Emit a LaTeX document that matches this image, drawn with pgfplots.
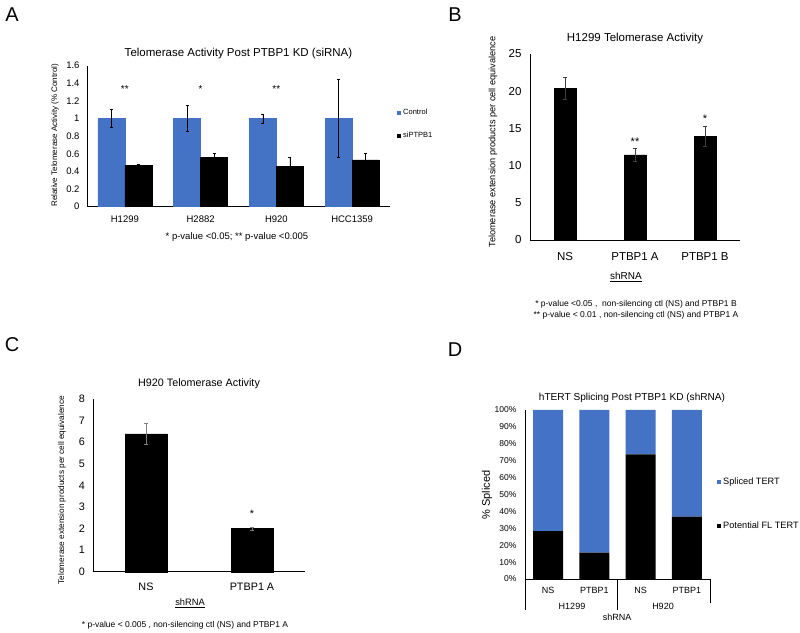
\documentclass[border=0pt]{standalone}
\usepackage{pgfplots}
\pgfplotsset{compat=1.18}
\usepackage{fontspec}
\setmainfont{Liberation Sans}
\definecolor{xblue}{HTML}{4472C4}
\newcommand{\fs}[1]{\fontsize{#1}{#1}\selectfont}
\pgfplotsset{
 excel/.style={
  scale only axis,
  axis x line*=bottom, axis y line*=left,
  axis line style={line width=0.8pt,-},
  major tick length=0pt,
  /pgf/number format/assume math mode=true,
  ymin=0,
  clip=false,
 },
 eb/.style={error bars/.cd, y dir=both, y explicit,
  error bar style={line width=0.6pt,#1},
  error mark options={rotate=90,mark size=1.6pt,line width=0.6pt,#1}},
}
\begin{document}
\begin{tikzpicture}[x=1pt,y=1pt]
\useasboundingbox (0,0) rectangle (800,632);
% ---------- A ----------
\begin{axis}[excel, at={(87pt,425.3pt)}, anchor=south west, width=303pt, height=141pt,
 ymax=1.6, xmin=-0.5, xmax=3.5, xtick={0,1,2,3},
 xticklabels={H1299,H2882,H920,HCC1359},
 ytick={0,0.2,0.4,0.6,0.8,1,1.2,1.4,1.6},
 ybar=0pt, bar width=27pt,
 ticklabel style={font=\fs{9.5}},
 xticklabel style={yshift=-5.4pt}, yticklabel style={xshift=-4pt},
 title={Telomerase Activity Post PTBP1 KD (siRNA)},
 title style={font=\fs{11.5}, at={(0.5,1)}, anchor=center, yshift=5.7pt},
 ylabel={Relative Telomerase Activity (\% Control)},
 ylabel style={font=\fs{8}, at={(axis description cs:-0.1056,0.507)}, anchor=center},
 legend image code/.code={\path[#1,draw=none] (0pt,-2pt) rectangle (4pt,2pt);},
 legend style={at={(axis description cs:1.023,0.707)}, anchor=north west, draw=none, fill=none, inner sep=0pt, font=\fs{7.5}, row sep=12pt},
 legend cell align=left,
]
\addplot[fill=xblue, draw=xblue, eb=black] coordinates {(0,1)+-(0,0.1) (1,1)+-(0,0.15) (2,1)+-(0,0.05) (3,1)+-(0,0.44)};
\addplot[fill=black, draw=black, eb=black] coordinates {(0,0.47)+-(0,0.01) (1,0.56)+-(0,0.05) (2,0.46)+-(0,0.1) (3,0.53)+-(0,0.08)};
\legend{Control,siPTPB1}
\node[font=\fs{10}] at (axis cs:0,1.33) {**};
\node[font=\fs{10}] at (axis cs:1,1.33) {*};
\node[font=\fs{10}] at (axis cs:2,1.33) {**};
\end{axis}
% ---------- B ----------
\begin{axis}[excel, at={(530pt,392pt)}, anchor=south west, width=210pt, height=186pt,
 ymax=25, ytick={0,5,10,15,20,25}, xmin=-0.5, xmax=2.5, xtick={0,1,2},
 xticklabels={NS,PTBP1 A,PTBP1 B},
 ybar, bar width=22pt,
 ticklabel style={font=\fs{11.5}},
 xticklabel style={yshift=-9pt}, yticklabel style={xshift=-5pt},
 title={H1299 Telomerase Activity},
 title style={font=\fs{11.5}, at={(0.5,1)}, anchor=center, yshift=9pt},
 ylabel={Telomerase extension products per cell equivalence},
 ylabel style={font=\fs{9.2}, at={(axis description cs:-0.176,0.527)}, anchor=center},
]
\addplot[fill=black, draw=black, eb=darkgray] coordinates {(0,20.4)+-(0,1.45) (1,11.45)+-(0,0.85) (2,13.95)+-(0,1.3)};
\node[font=\fs{11}] at (axis cs:1,13.2) {**};
\node[font=\fs{11}] at (axis cs:2,16.3) {*};
\end{axis}
% ---------- C ----------
\begin{axis}[excel, at={(93pt,60.3pt)}, anchor=south west, width=212pt, height=172.7pt,
 ymax=8, ytick={0,1,2,3,4,5,6,7,8}, xmin=-0.5, xmax=1.5, xtick={0,1},
 xticklabels={NS,PTBP1 A},
 ybar, bar width=42pt,
 ticklabel style={font=\fs{10.8}},
 xticklabel style={yshift=-7.5pt}, yticklabel style={xshift=-4.5pt},
 title={H920 Telomerase Activity},
 title style={font=\fs{10.8}, at={(0.5,1)}, anchor=center, yshift=9pt},
 ylabel={Telomerase extension products per cell equivalence},
 ylabel style={font=\fs{8.2}, at={(axis description cs:-0.146,0.473)}, anchor=center},
]
\addplot[fill=black, draw=black, eb=gray] coordinates {(0,6.38)+-(0,0.5) (1,2.0)+-(0,0.08)};
\node[font=\fs{10.8}] at (axis cs:1,2.66) {*};
\end{axis}
% ---------- D ----------
\begin{axis}[excel, at={(525pt,53pt)}, anchor=south west, width=185pt, height=169pt,
 ymax=100, ytick={0,10,...,100}, xmin=-0.5, xmax=3.5, xtick={0,1,2,3},
 xticklabels={NS,PTBP1,NS,PTBP1},
 yticklabel={\pgfmathprintnumber{\tick}\%},
 ybar stacked, bar width=30pt,
 xticklabel style={font=\fs{9}, yshift=-4.4pt}, yticklabel style={font=\fs{8.5}, xshift=-5pt},
 title={hTERT Splicing Post PTBP1 KD (shRNA)},
 title style={font=\fs{10.1}, at={(0.5,1)}, anchor=center, yshift=6pt, xshift=14.5pt},
 ylabel={\% Spliced},
 ylabel style={font=\fs{11}, at={(axis description cs:-0.205,0.497)}, anchor=center},
 legend image code/.code={\path[#1,draw=none] (0pt,-2pt) rectangle (4pt,2pt);},
 legend style={at={(axis description cs:1.038,0.609)}, anchor=north west, draw=none, fill=none, inner sep=0pt, font=\fs{9.2}, row sep=31pt},
 legend cell align=left, reverse legend,
]
\addplot[fill=black, draw=none] coordinates {(0,28.4) (1,15.6) (2,73.8) (3,36.9)};
\addplot[fill=xblue, draw=none] coordinates {(0,71.6) (1,84.4) (2,26.2) (3,63.1)};
\legend{Potential FL TERT,Spliced TERT}
\draw[line width=0.8pt] (axis cs:-0.5,0) -- ++(0pt,-31pt);
\draw[line width=0.8pt] (axis cs:1.5,0) -- ++(0pt,-31pt);
\draw[line width=0.8pt] (axis cs:3.5,0) -- ++(0pt,-24pt);
\end{axis}
% ---------- texts ----------
\node[font=\fs{20}] at (12,617) {A};
\node[font=\fs{20}] at (455,617) {B};
\node[font=\fs{20}] at (12,287) {C};
\node[font=\fs{20}] at (455,282) {D};
\node[font=\fs{9.5}] at (237,395) {* p-value <0.05; ** p-value <0.005};
\node[font=\fs{10}] at (626,355) {\underline{shRNA}};
\node[font=\fs{8.5}] at (636,328) {* p-value <0.05 ,\ \ non-silencing ctl (NS) and PTBP1 B};
\node[font=\fs{8.5}] at (636,317) {** p-value < 0.01 , non-silencing ctl (NS) and PTBP1 A};
\node[font=\fs{9.3}] at (190,29) {\underline{shRNA}};
\node[font=\fs{8.5}] at (185,7) {* p-value < 0.005 , non-silencing ctl (NS) and PTBP1 A};
\node[font=\fs{9}] at (572,26) {H1299};
\node[font=\fs{9}] at (663,26) {H920};
\node[font=\fs{9}] at (617,15) {shRNA};
\end{tikzpicture}
\end{document}
